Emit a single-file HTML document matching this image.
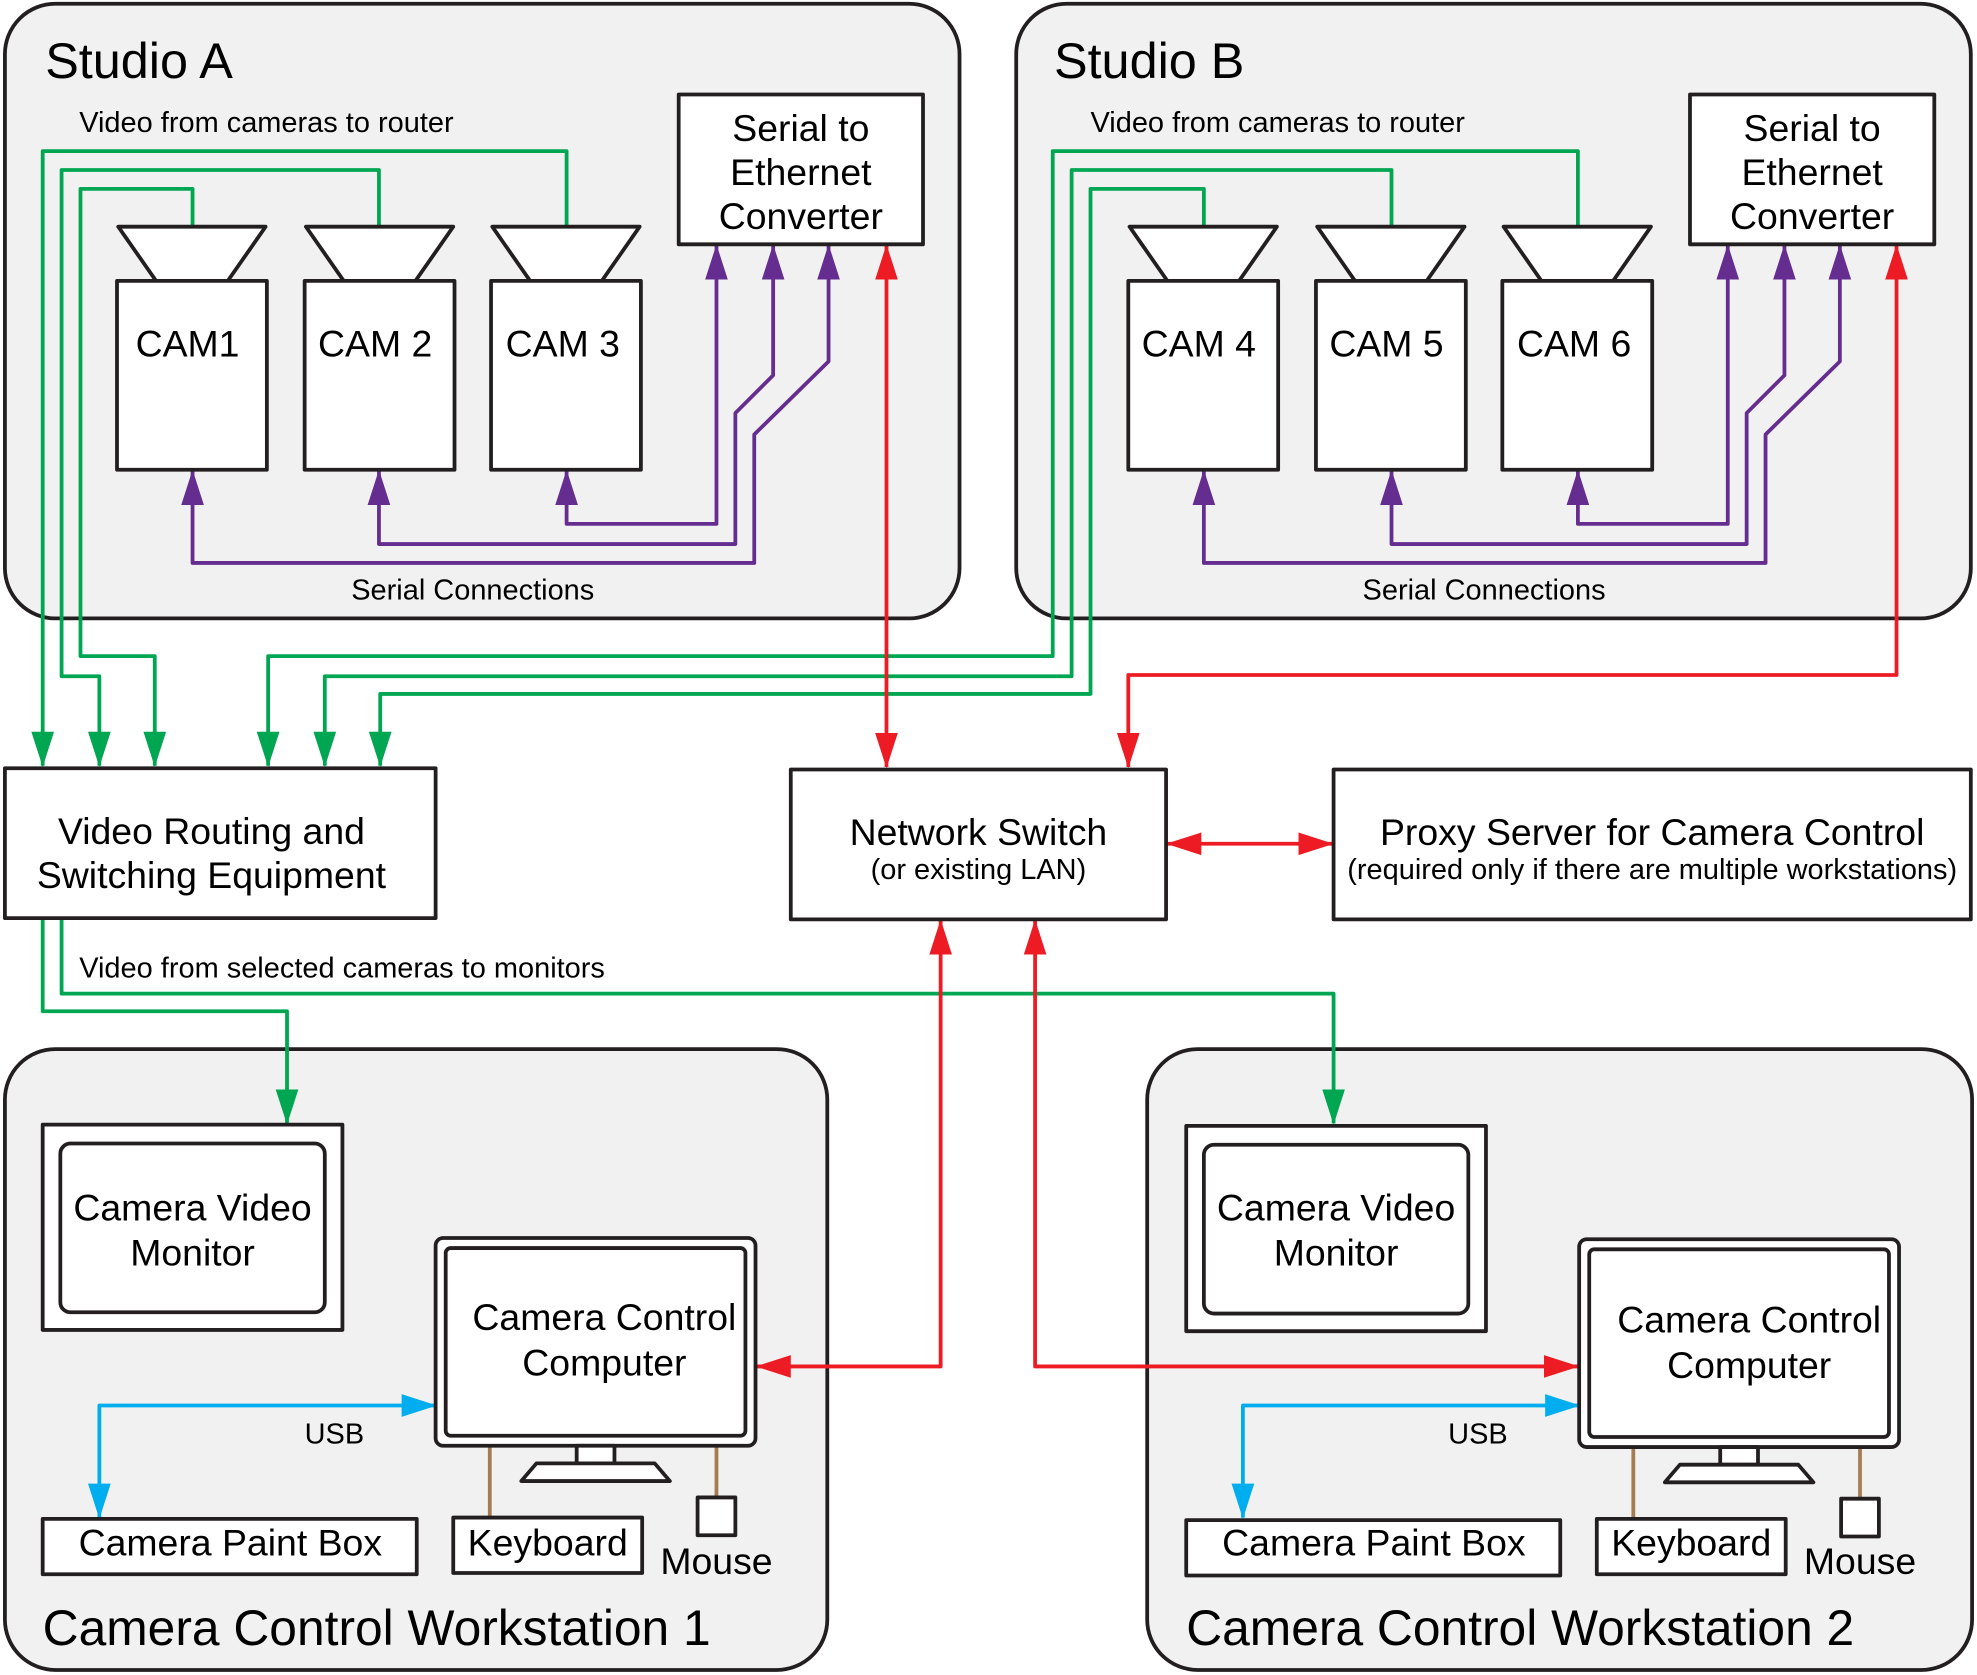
<!DOCTYPE html>
<html><head><meta charset="utf-8"><style>
html,body{margin:0;padding:0;background:#fff}
svg{display:block}
text{font-family:"Liberation Sans",Arial,sans-serif;fill:#000}
</style></head><body>
<svg width="1977" height="1675" viewBox="0 0 1568 1330" xmlns="http://www.w3.org/2000/svg">
<defs>
<marker id="g" markerUnits="userSpaceOnUse" markerWidth="28" markerHeight="20" refX="27" refY="10" viewBox="0 0 28 20" orient="auto-start-reverse"><path d="M0,1 L28,10 L0,19z" fill="#00a651"/></marker>
<marker id="p" markerUnits="userSpaceOnUse" markerWidth="28" markerHeight="20" refX="27" refY="10" viewBox="0 0 28 20" orient="auto-start-reverse"><path d="M0,1 L28,10 L0,19z" fill="#662d91"/></marker>
<marker id="r" markerUnits="userSpaceOnUse" markerWidth="28" markerHeight="20" refX="27" refY="10" viewBox="0 0 28 20" orient="auto-start-reverse"><path d="M0,1 L28,10 L0,19z" fill="#ed1c24"/></marker>
<marker id="b" markerUnits="userSpaceOnUse" markerWidth="28" markerHeight="20" refX="27" refY="10" viewBox="0 0 28 20" orient="auto-start-reverse"><path d="M0,1 L28,10 L0,19z" fill="#00aeef"/></marker>
</defs>
<g fill="#f0f1f0" stroke="#231f20" stroke-width="3">
<rect x="3" y="3" width="758" height="488" rx="40"/>
<rect x="806" y="3" width="758" height="488" rx="40"/>
<rect x="3" y="833" width="653" height="493" rx="40"/>
<rect x="910" y="833" width="655" height="493" rx="40"/>
</g>
<g font-size="40"><text x="35" y="62">Studio A</text><text x="836" y="62">Studio B</text></g>
<g font-size="23"><text x="62" y="105">Video from cameras to router</text><text x="865" y="105">Video from cameras to router</text>
<text x="278" y="476">Serial Connections</text><text x="1081" y="476">Serial Connections</text>
<text x="62" y="776">Video from selected cameras to monitors</text>
<text x="241" y="1146">USB</text><text x="1149" y="1146">USB</text></g>
<g fill="none" stroke-width="3" stroke-linejoin="round">
<g stroke="#00a651">
<path d="M449,180 V120 H33 V608" marker-end="url(#g)"/>
<path d="M300,180 V135 H48 V537 H78 V608" marker-end="url(#g)"/>
<path d="M152,180 V150 H63 V521 H122 V608" marker-end="url(#g)"/>
<path d="M1252,180 V120 H835 V521 H212 V608" marker-end="url(#g)"/>
<path d="M1104,180 V135 H850 V537 H257 V608" marker-end="url(#g)"/>
<path d="M955,180 V150 H865 V551 H301 V608" marker-end="url(#g)"/>
<path d="M33,730 V803 H227 V892" marker-end="url(#g)"/>
<path d="M48,730 V789 H1058 V892" marker-end="url(#g)"/>
</g>
<g stroke="#662d91">
<path d="M449,374 V416 H568 V195" marker-start="url(#p)" marker-end="url(#p)"/>
<path d="M300,374 V432 H583 V328 L613,298 V195" marker-start="url(#p)" marker-end="url(#p)"/>
<path d="M152,374 V447 H598 V345 L657,287 V195" marker-start="url(#p)" marker-end="url(#p)"/>
<path d="M1252,374 V416 H1371 V195" marker-start="url(#p)" marker-end="url(#p)"/>
<path d="M1104,374 V432 H1386 V328 L1416,298 V195" marker-start="url(#p)" marker-end="url(#p)"/>
<path d="M955,374 V447 H1401 V345 L1460,287 V195" marker-start="url(#p)" marker-end="url(#p)"/>
</g>
<g stroke="#ed1c24">
<path d="M703,195 V609" marker-start="url(#r)" marker-end="url(#r)"/>
<path d="M1505,195 V536 H895 V609" marker-start="url(#r)" marker-end="url(#r)"/>
<path d="M926,670 H1057" marker-start="url(#r)" marker-end="url(#r)"/>
<path d="M746,731 V1085 H600" marker-start="url(#r)" marker-end="url(#r)"/>
<path d="M821,731 V1085 H1252" marker-start="url(#r)" marker-end="url(#r)"/>
</g>
<g stroke="#00aeef">
<path d="M78,1205 V1116 H345" marker-start="url(#b)" marker-end="url(#b)"/>
<path d="M986,1205 V1116 H1253" marker-start="url(#b)" marker-end="url(#b)"/>
</g>
<g stroke="#a67c52">
<path d="M388,1148 V1205 M568,1148 V1189 M1296,1148 V1205 M1476,1148 V1189"/>
</g>
</g>
<g fill="#fff" stroke="#231f20" stroke-width="3" stroke-linejoin="round">
<g>
<path d="M93,180 H210 L180,223 H123 Z"/><rect x="92" y="223" width="119" height="150"/>
<path d="M242,180 H359 L329,223 H272 Z"/><rect x="241" y="223" width="119" height="150"/>
<path d="M390,180 H507 L477,223 H420 Z"/><rect x="389" y="223" width="119" height="150"/>
</g>
<g transform="translate(803,0)">
<path d="M93,180 H210 L180,223 H123 Z"/><rect x="92" y="223" width="119" height="150"/>
<path d="M242,180 H359 L329,223 H272 Z"/><rect x="241" y="223" width="119" height="150"/>
<path d="M390,180 H507 L477,223 H420 Z"/><rect x="389" y="223" width="119" height="150"/>
</g>
<rect x="538" y="75" width="194" height="119"/>
<rect x="1341" y="75" width="194" height="119"/>
<rect x="3" y="610" width="342" height="119"/>
<rect x="627" y="611" width="298" height="119"/>
<rect x="1058" y="611" width="506" height="119"/>
<g>
<rect x="33" y="893" width="238" height="163"/>
<rect x="47" y="908" width="210" height="134" rx="8"/>
<rect x="345" y="983" width="254" height="165" rx="6"/>
<rect x="353" y="991" width="238" height="149" rx="4"/>
<rect x="457" y="1148" width="30" height="14"/>
<path d="M425,1162 H519 L531,1176 H413 Z"/>
<rect x="359" y="1205" width="150" height="44"/>
<rect x="553" y="1189" width="30" height="30"/>
<rect x="33" y="1206" width="297" height="44"/>
</g>
<g transform="translate(908,1)">
<rect x="33" y="893" width="238" height="163"/>
<rect x="47" y="908" width="210" height="134" rx="8"/>
<rect x="345" y="983" width="254" height="165" rx="6"/>
<rect x="353" y="991" width="238" height="149" rx="4"/>
<rect x="457" y="1148" width="30" height="14"/>
<path d="M425,1162 H519 L531,1176 H413 Z"/>
<rect x="359" y="1205" width="150" height="44"/>
<rect x="553" y="1189" width="30" height="30"/>
<rect x="33" y="1206" width="297" height="44"/>
</g>
</g>
<g font-size="29.7" text-anchor="middle">
<text x="148" y="283">CAM1</text><text x="297" y="283">CAM 2</text><text x="446" y="283">CAM 3</text>
<text x="951" y="283">CAM 4</text><text x="1100" y="283">CAM 5</text><text x="1249" y="283">CAM 6</text>
<text x="635" y="112">Serial to</text><text x="635" y="147">Ethernet</text><text x="635" y="182">Converter</text>
<text x="1438" y="112">Serial to</text><text x="1438" y="147">Ethernet</text><text x="1438" y="182">Converter</text>
<text x="167" y="670">Video Routing and</text><text x="167" y="705">Switching Equipment</text>
<text x="776" y="671">Network Switch</text>
<text x="1311" y="671">Proxy Server for Camera Control</text>
<text x="152" y="969">Camera Video</text><text x="152" y="1005">Monitor</text>
<text x="479" y="1056">Camera Control</text><text x="479" y="1092">Computer</text>
<text x="182" y="1235">Camera Paint Box</text><text x="434" y="1235">Keyboard</text><text x="568" y="1250">Mouse</text>
<text x="1060" y="969">Camera Video</text><text x="1060" y="1005">Monitor</text>
<text x="1388" y="1058">Camera Control</text><text x="1388" y="1094">Computer</text>
<text x="1090" y="1235">Camera Paint Box</text><text x="1342" y="1235">Keyboard</text><text x="1476" y="1250">Mouse</text>
</g>
<g font-size="23" text-anchor="middle">
<text x="776" y="698">(or existing LAN)</text>
<text x="1311" y="698">(required only if there are multiple workstations)</text>
</g>
<g font-size="39.5"><text x="33" y="1306">Camera Control Workstation 1</text><text x="941" y="1306">Camera Control Workstation 2</text></g>
</svg>
</body></html>
